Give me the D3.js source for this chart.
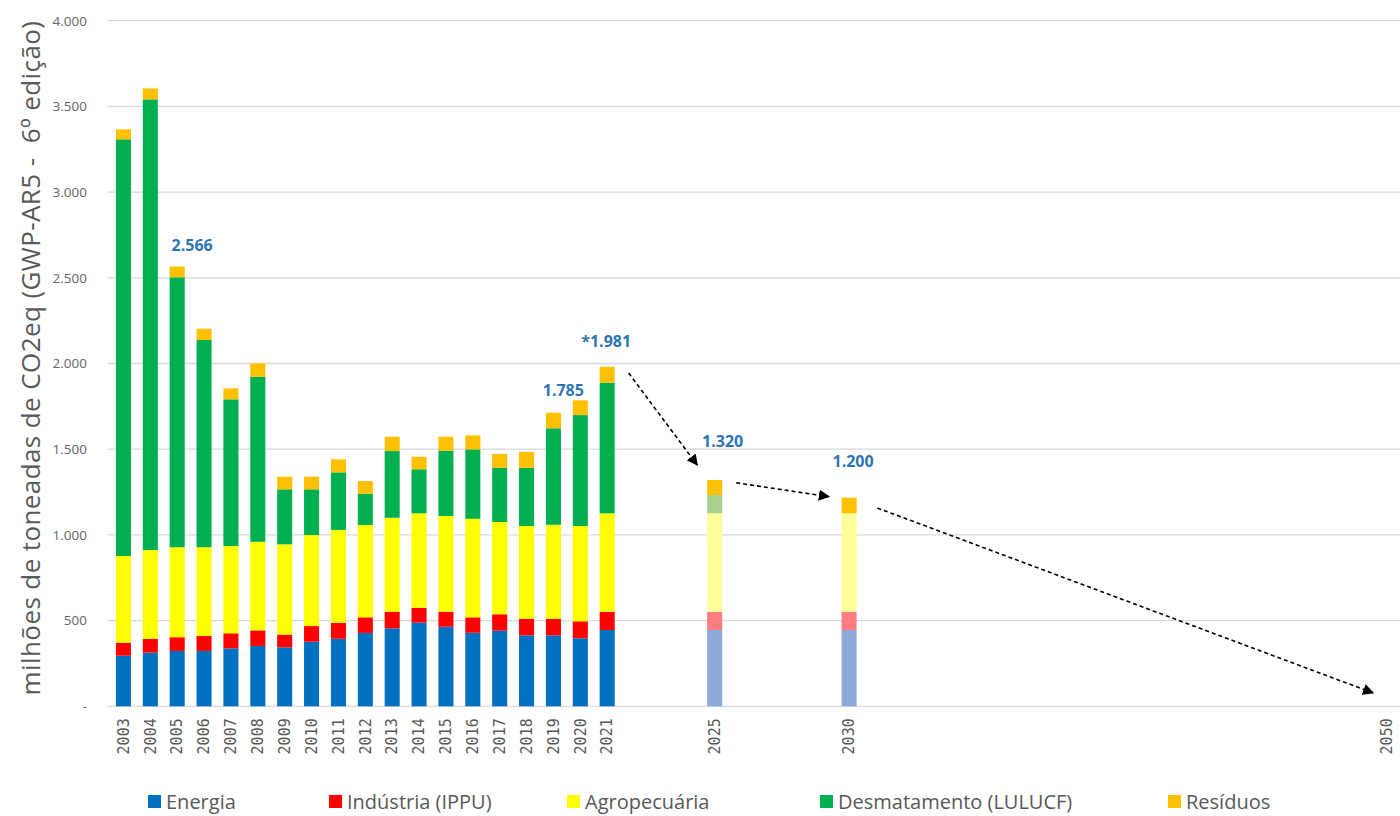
<!DOCTYPE html>
<html>
<head>
<meta charset="utf-8">
<script src="https://cdn.jsdelivr.net/npm/d3@7"></script>
<style>
	body { margin: 0; background: #fff; }
	svg { display: block; }
	.grid line { stroke: #d9d9d9; stroke-width: 1.3; }
	.tick-y { font-family: "Open Sans", sans-serif; font-size: 13.5px; fill: #666; }
	.tick-x { font-family: "DejaVu Sans Mono", monospace; font-size: 15px; fill: #595959; }
	.rotulo { font-family: "Open Sans", sans-serif; font-weight: bold; font-size: 16px; fill: #2e75b6; }
	.legenda { font-family: "Open Sans", sans-serif; font-size: 20px; fill: #595959; }
	.titulo-y { font-family: "Open Sans", sans-serif; font-size: 26px; letter-spacing: 0.4px; fill: #595959; white-space: pre; }
</style>
</head>
<body>
<svg width="1400" height="816"></svg>
<script>
// anos com barras (2025 e 2030 = metas)
const anos = [2003, 2004, 2005, 2006, 2007, 2008, 2009, 2010, 2011, 2012,
	2013, 2014, 2015, 2016, 2017, 2018, 2019, 2020, 2021, 2025, 2030];
const anosMeta = [2025, 2030];
const anosRotulo = [...anos, 2050];

// milhões de toneladas CO2eq por setor
const energia = [295, 313, 323, 323, 338, 352, 344, 377, 394, 428,
	455, 488, 464, 429, 441, 414, 414, 397, 445, 445, 445];
const industria = [76, 81, 80, 87, 88, 91, 74, 91, 92, 91,
	97, 87, 88, 90, 96, 97, 97, 99, 107, 107, 107];
const agropecuaria = [506, 518, 525, 518, 509, 517, 527, 531, 543, 539,
	548, 551, 558, 575, 538, 541, 548, 556, 574, 574, 574];
const desmatamento = [2431, 2629, 1575, 1209, 856, 963, 321, 267, 336, 182,
	389, 257, 381, 405, 317, 340, 563, 647, 762, 107, 0];
const residuos = [58, 64, 63, 66, 64, 78, 74, 74, 76, 74,
	84, 73, 82, 82, 80, 92, 91, 86, 93, 87, 91];

const setores = ["Energia", "Indústria (IPPU)", "Agropecuária", "Desmatamento (LULUCF)", "Resíduos"];

// rotulos de total
const rotulos = [
	{ano: 2005, texto: "2.566", total: 2566},
	{ano: 2020, texto: "1.785", total: 1785},
	{ano: 2021, texto: "*1.981", total: 1981},
	{ano: 2025, texto: "1.320", total: 1320},
	{ano: 2030, texto: "1.200", total: 1200}
];

// setas tracejadas [ano, valor] -> [ano, valor]
const setas = [
	[[2021.8, 1944], [2024.35, 1408]],
	[[2025.8, 1304], [2029.25, 1223]],
	[[2031.05, 1157], [2049.5, 78]]
];

const cores = ["#0070c0", "#ff0000", "#ffff00", "#00b050", "#ffc000"];
const coresMeta = ["#8eaadb", "#ff7c80", "#ffff99", "#a9d08e", "#ffc000"];

const svg = d3.select("svg");
const margin = {top: 20.7, right: 0, bottom: 109.7, left: 110};
const height = 816 - margin.top - margin.bottom;

const x = d3.scaleBand()
	.domain(d3.range(2003, 2051))
	.range([margin.left, 1400])
	.paddingInner(0.44)
	.paddingOuter(0.22);

const xc = d => x(d) + x.bandwidth() / 2;
const xLin = d3.scaleLinear().domain([2003, 2050]).range([xc(2003), xc(2050)]);

const y = d3.scaleLinear().domain([0, 4000]).range([margin.top + height, margin.top]);

const loc = d3.formatLocale({decimal: ",", thousands: ".", grouping: [3], currency: ["R$", ""]});
const fmt = loc.format(",.0f");

// grade
const grid = svg.append("g").attr("class", "grid");
grid.selectAll("line")
	.data(y.ticks(8))
	.join("line")
	.attr("x1", 108).attr("x2", 1400)
	.attr("y1", d => y(d)).attr("y2", d => y(d));

// eixo y
const gY = svg.append("g")
	.attr("transform", `translate(${margin.left - 20},0)`)
	.call(d3.axisLeft(y).ticks(8).tickSize(0).tickFormat(d => d === 0 ? "-" : fmt(d)));
gY.select(".domain").remove();
gY.selectAll("text").attr("class", "tick-y").attr("fill", null);

svg.append("text")
	.attr("class", "titulo-y")
	.attr("text-anchor", "middle")
	.attr("transform", `translate(40,${358}) rotate(-90)`)
	.text("milhões de toneadas de CO2eq (GWP-AR5 -  6º edição)");

// pilhas
const tabela = anos.map((ano, i) => ({
	ano,
	meta: anosMeta.includes(ano),
	[setores[0]]: energia[i],
	[setores[1]]: industria[i],
	[setores[2]]: agropecuaria[i],
	[setores[3]]: desmatamento[i],
	[setores[4]]: residuos[i]
}));

const series = d3.stack().keys(setores)(tabela);

svg.append("g").selectAll("g")
	.data(series)
	.join("g")
	.selectAll("rect")
	.data((s, si) => s.map(d => ({d, si})))
	.join("rect")
	.attr("x", e => x(e.d.data.ano))
	.attr("width", x.bandwidth())
	.attr("y", e => y(e.d[1]))
	.attr("height", e => y(e.d[0]) - y(e.d[1]))
	.attr("fill", e => e.d.data.meta ? coresMeta[e.si] : cores[e.si]);

// eixo x
const gX = svg.append("g")
	.attr("transform", `translate(0,${margin.top + height})`)
	.call(d3.axisBottom(x).tickValues(anosRotulo).tickSize(0));
gX.select(".domain").remove();
gX.selectAll("text")
	.attr("class", "tick-x")
	.attr("fill", null)
	.attr("text-anchor", "end")
	.attr("transform", "rotate(-90)")
	.attr("x", -12)
	.attr("y", 0)
	.attr("dy", "0.35em");

// rotulos de total
const desloc = {2005: [15, -15], 2020: [-17, -4], 2021: [-1, -20], 2025: [8, -33], 2030: [4, -34]};
svg.append("g").selectAll("text")
	.data(rotulos)
	.join("text")
	.attr("class", "rotulo")
	.attr("text-anchor", "middle")
	.attr("x", d => xc(d.ano) + desloc[d.ano][0])
	.attr("y", d => y(d.total) + desloc[d.ano][1])
	.text(d => d.texto);

// setas
svg.append("defs").append("marker")
	.attr("id", "ponta")
	.attr("viewBox", "0 0 10 10")
	.attr("refX", 9).attr("refY", 5)
	.attr("markerWidth", 7).attr("markerHeight", 7)
	.attr("markerUnits", "strokeWidth")
	.attr("orient", "auto")
	.append("path")
	.attr("d", "M0,0 L10,5 L0,10 z")
	.attr("fill", "#000");

svg.append("g").selectAll("line")
	.data(setas)
	.join("line")
	.attr("x1", d => xLin(d[0][0])).attr("y1", d => y(d[0][1]))
	.attr("x2", d => xLin(d[1][0])).attr("y2", d => y(d[1][1]))
	.attr("stroke", "#000")
	.attr("stroke-width", 1.6)
	.attr("stroke-dasharray", "4,3")
	.attr("marker-end", "url(#ponta)");

// legenda
const legX = [148, 329, 567, 820, 1168];
const leg = svg.append("g").selectAll("g")
	.data(setores)
	.join("g")
	.attr("transform", (d, i) => `translate(${legX[i]},795)`);
leg.append("rect").attr("width", 13).attr("height", 13).attr("fill", (d, i) => cores[i]);
leg.append("text")
	.attr("class", "legenda")
	.attr("x", 18).attr("y", 7).attr("dy", "0.35em")
	.text(d => d);
</script>
</body>
</html>
